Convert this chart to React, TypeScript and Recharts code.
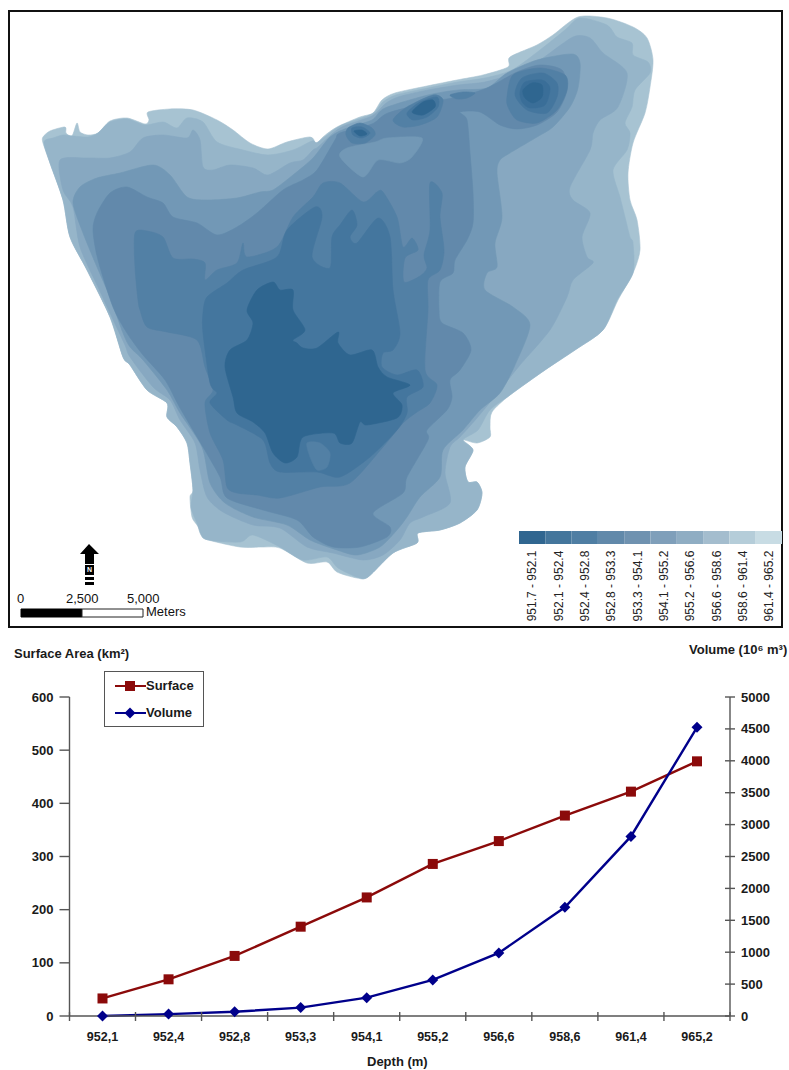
import React from 'react';
import {
  ScatterChart,
  Scatter,
  LineChart,
  Line,
  XAxis,
  YAxis,
  ReferenceArea,
  Legend,
} from 'recharts';

const FONT = '"Liberation Sans", Arial, sans-serif';

// Lower chart
const depths = ['952,1', '952,4', '952,8', '953,3', '954,1', '955,2', '956,6', '958,6', '961,4', '965,2'];
const surfaceArea = [33, 69, 113, 168, 223, 286, 329, 377, 422, 479];
const volume = [0, 30, 66, 132, 287, 565, 988, 1705, 2815, 4525];
const leftTicks = [0, 100, 200, 300, 400, 500, 600];
const rightTicks = [0, 500, 1000, 1500, 2000, 2500, 3000, 3500, 4000, 4500, 5000];

const chartData = depths.map((depth, i) => ({ depth, surface: surfaceArea[i], volume: volume[i] }));

// Map legend
const legendClasses = [
  '951.7 - 952.1', '952.1 - 952.4', '952.4 - 952.8', '952.8 - 953.3', '953.3 - 954.1',
  '954.1 - 955.2', '955.2 - 956.6', '956.6 - 958.6', '958.6 - 961.4', '961.4 - 965.2',
];
const legendColors = [
  '#306690', '#44769c', '#4f7ea3', '#6189aa', '#6f92b0',
  '#7f9fba', '#8fadc3', '#a4bdce', '#b5cdd9', '#c8dce4',
];

type Pt = [number, number];

// Contours, from the shore inwards
const shore: Pt[] = [
  [43, 137], [50, 131], [65, 127], [66, 133], [72, 136], [77, 123], [80, 132], [88, 135], [98, 133], [110, 121],
  [127, 118], [145, 124], [149, 120], [148, 112], [170, 109], [193, 110], [217, 120], [233, 130], [250, 143],
  [268, 149], [287, 142], [310, 137], [315, 143], [313, 148], [323, 137], [337, 127], [360, 117], [373, 113],
  [382, 100], [395, 93], [427, 86], [457, 80], [483, 75], [508, 67], [510, 57], [537, 45], [553, 35], [578, 17],
  [607, 18], [633, 27], [647, 38], [653, 60], [650, 87], [645, 113], [633, 143], [628, 173], [630, 200], [637, 220],
  [640, 250], [633, 273], [618, 300], [603, 330], [575, 350], [545, 370], [510, 395], [492, 412], [490, 427],
  [490, 437], [477, 443], [463, 440], [473, 450], [465, 467], [468, 482], [477, 482], [482, 493], [477, 510],
  [460, 523], [440, 530], [418, 533], [417, 543], [393, 553], [368, 577], [357, 578], [337, 572], [327, 562],
  [307, 563], [280, 548], [263, 547], [240, 547], [205, 539], [202, 533], [197, 525], [192, 517], [190, 497],
  [193, 490], [190, 463], [187, 443], [177, 427], [167, 417], [167, 403], [147, 390], [130, 365], [123, 357],
  [110, 317], [87, 270], [70, 237], [63, 200], [50, 163], [43, 143],
];
const rim: Pt[] = [
  [44, 142], [53, 138], [63, 135], [73, 136], [88, 137], [98, 133], [110, 122], [127, 119], [145, 125], [163, 122],
  [177, 128], [187, 118], [203, 122], [217, 142], [243, 150], [268, 155], [293, 150], [312, 141], [318, 142],
  [340, 126], [372, 114], [383, 102], [396, 95], [428, 88], [458, 82], [485, 78], [512, 70], [540, 50], [565, 30],
  [580, 18], [607, 25], [617, 37], [632, 43], [633, 55], [648, 62], [650, 73], [635, 90], [632, 107], [625, 123],
  [630, 133], [627, 150], [613, 170], [620, 197], [625, 217], [630, 237], [633, 243], [633, 273], [617, 300],
  [603, 330], [575, 350], [545, 370], [510, 395], [490, 410], [478, 430], [463, 440], [473, 450], [465, 467],
  [468, 482], [477, 482], [482, 493], [477, 510], [460, 523], [440, 530], [418, 533], [417, 543], [393, 553],
  [368, 577], [357, 577], [338, 568], [327, 557], [303, 560], [280, 547], [253, 535], [240, 542], [205, 539],
  [197, 523], [191, 507], [193, 490], [190, 463], [187, 443], [177, 427], [167, 417], [167, 403], [147, 390],
  [130, 365], [123, 357], [110, 317], [87, 270], [70, 237], [63, 200], [50, 163],
];
const shelf: Pt[] = [
  [60, 160], [87, 158], [110, 158], [130, 152], [143, 138], [163, 135], [187, 138], [193, 130], [200, 140],
  [203, 167], [213, 170], [230, 165], [253, 168], [268, 175], [290, 163], [303, 160], [313, 150], [318, 147],
  [340, 128], [372, 116], [385, 104], [398, 97], [428, 90], [458, 85], [485, 82], [515, 73], [540, 60], [573, 37],
  [590, 38], [603, 53], [627, 73], [618, 107], [600, 120], [593, 133], [590, 150], [570, 187], [573, 200],
  [590, 213], [582, 237], [587, 257], [593, 263], [573, 280], [567, 297], [550, 330], [520, 365], [500, 390],
  [477, 418], [460, 437], [450, 447], [445, 473], [450, 503], [423, 517], [410, 523], [400, 540], [383, 555],
  [363, 560], [333, 553], [307, 547], [280, 528], [253, 525], [223, 512], [207, 497], [200, 470], [195, 443],
  [180, 420], [170, 400], [153, 387], [130, 357], [125, 345], [110, 313], [98, 287], [80, 247], [73, 207], [63, 190],
];
const slope: Pt[] = [
  [73, 203], [80, 187], [97, 178], [120, 173], [153, 165], [170, 175], [187, 197], [207, 200], [237, 198],
  [260, 192], [273, 190], [293, 175], [313, 158], [330, 137], [347, 128], [372, 120], [385, 108], [428, 95],
  [458, 90], [487, 88], [507, 73], [537, 60], [572, 54], [580, 63], [578, 88], [570, 107], [553, 127], [537, 137],
  [510, 153], [500, 160], [497, 173], [502, 217], [495, 243], [497, 267], [487, 273], [485, 290], [513, 307],
  [530, 325], [515, 365], [500, 393], [480, 410], [463, 430], [443, 450], [440, 477], [420, 497], [407, 517],
  [397, 530], [380, 547], [357, 555], [337, 550], [310, 540], [287, 525], [253, 517], [225, 503], [210, 483],
  [202, 447], [180, 413], [167, 390], [143, 360], [130, 347], [123, 333], [110, 297], [97, 267], [83, 233],
];
const basin: Pt[] = [
  [93, 230], [97, 213], [110, 193], [127, 187], [147, 197], [163, 203], [173, 217], [197, 223], [217, 235],
  [237, 227], [257, 213], [283, 190], [303, 180], [317, 170], [335, 140], [340, 133], [372, 124], [388, 113],
  [430, 102], [458, 97], [487, 88], [517, 72], [540, 65], [562, 70], [567, 90], [557, 112], [537, 125], [517, 129],
  [500, 125], [480, 112], [460, 112], [467, 120], [470, 153], [473, 193], [473, 223], [467, 240], [455, 260],
  [453, 273], [440, 282], [439, 310], [442, 323], [463, 333], [471, 350], [460, 370], [450, 380], [452, 397],
  [447, 410], [427, 430], [428, 440], [407, 477], [403, 493], [373, 513], [390, 527], [387, 537], [360, 547],
  [333, 547], [313, 537], [297, 520], [263, 510], [227, 498], [220, 477], [203, 447], [180, 408], [165, 380],
  [143, 355], [127, 333], [113, 307], [98, 260],
];
const basinPatch: Pt[] = [
  [340, 157], [363, 177], [378, 160], [400, 163], [412, 157], [422, 138], [387, 138], [375, 142], [347, 148],
];
const floor: Pt[] = [
  [135, 233], [147, 231], [163, 237], [173, 258], [193, 259], [205, 263], [205, 280], [217, 270], [237, 263],
  [243, 243], [247, 257], [277, 247], [293, 217], [313, 197], [323, 183], [340, 183], [363, 202], [377, 192],
  [383, 192], [397, 217], [403, 247], [412, 238], [418, 250], [405, 258], [404, 282], [420, 276], [427, 268],
  [424, 255], [430, 230], [430, 183], [442, 193], [440, 217], [444, 250], [440, 270], [428, 280], [428, 310],
  [425, 370], [437, 385], [430, 403], [417, 412], [403, 423], [383, 447], [350, 483], [320, 487], [280, 498],
  [257, 495], [237, 493], [227, 487], [223, 460], [210, 433], [205, 403], [213, 390], [205, 367], [197, 340],
  [167, 332], [147, 327], [140, 310], [138, 300], [135, 267],
];
const deep: Pt[] = [
  [203, 313], [207, 297], [227, 283], [243, 270], [277, 257], [287, 230], [315, 207], [322, 217], [312, 257],
  [330, 268], [332, 237], [340, 225], [352, 210], [357, 225], [350, 237], [357, 243], [378, 218], [390, 237],
  [393, 290], [400, 333], [393, 350], [383, 353], [382, 367], [397, 375], [417, 370], [423, 387], [407, 397],
  [407, 413], [397, 430], [370, 457], [340, 477], [317, 472], [280, 472], [270, 463], [263, 440], [237, 425],
  [227, 420], [210, 403], [217, 393], [210, 383], [203, 333],
];
const deepPatch: Pt[] = [
  [307, 443], [320, 443], [330, 453], [327, 467], [317, 470], [310, 457],
];
const deepest: Pt[] = [
  [247, 310], [257, 290], [273, 282], [280, 290], [293, 290], [293, 310], [305, 330], [293, 340], [297, 343],
  [303, 348], [317, 348], [338, 332], [338, 343], [350, 355], [372, 350], [378, 367], [387, 377], [410, 385],
  [393, 393], [402, 405], [397, 418], [367, 425], [360, 422], [352, 443], [340, 443], [333, 433], [303, 437],
  [297, 457], [285, 463], [273, 453], [265, 433], [253, 422], [237, 413], [233, 397], [225, 367], [230, 350],
  [247, 340], [253, 323],
];
// Small pits along the north shore
const pitWestA: Pt[] = [[348, 128], [360, 123], [372, 128], [375, 135], [365, 143], [352, 143], [346, 135]];
const pitWestB: Pt[] = [[352, 128], [362, 127], [370, 133], [362, 138], [353, 135]];
const pitWestC: Pt[] = [[354, 131], [362, 130], [367, 134], [360, 136]];
const pitMidA: Pt[] = [[393, 120], [407, 107], [433, 95], [443, 100], [437, 117], [420, 125], [403, 127]];
const pitMidB: Pt[] = [[407, 113], [420, 102], [437, 97], [438, 107], [427, 117], [413, 120]];
const pitMidC: Pt[] = [[412, 112], [423, 102], [433, 100], [435, 107], [423, 115]];
const pitSmall: Pt[] = [[450, 95], [463, 92], [475, 93], [467, 98], [457, 99]];
const pitEastA: Pt[] = [[507, 97], [513, 75], [540, 68], [565, 75], [567, 90], [557, 110], [537, 123], [517, 120], [508, 107]];
const pitEastB: Pt[] = [[515, 95], [522, 78], [543, 73], [557, 83], [557, 97], [547, 113], [527, 110]];
const pitEastC: Pt[] = [[520, 92], [525, 82], [542, 80], [550, 88], [545, 105], [530, 108], [522, 102]];
const pitEastD: Pt[] = [[523, 90], [532, 83], [542, 85], [542, 97], [533, 103], [525, 98]];
// North arrow
const arrowHead: Pt[] = [[89, 544], [99, 554], [94, 554], [94, 564], [85, 564], [85, 554], [80, 554]];

const level0 = '#a7c3d2';
const level1 = '#96b5c9';
const level2 = '#87a8c1';
const level3 = '#7298b6';
const level4 = '#6289ab';
const level5 = '#5280a5';
const level6 = '#44769e';
const level7 = '#2f6690';

const contours: [Pt[], string][] = [
  [shore, level0], [rim, level1], [shelf, level2], [slope, level3], [basin, level4], [basinPatch, level3],
  [floor, level5], [deep, level6], [deepPatch, level5], [deepest, level7],
  [pitWestA, level5], [pitWestB, level6], [pitWestC, level7],
  [pitMidA, level5], [pitMidB, level6], [pitMidC, level7], [pitSmall, level5],
  [pitEastA, level5], [pitEastB, level6], [pitEastC, '#3a6e98'], [pitEastD, level7],
];

// closed Catmull-Rom through the scaled points, so the contours do not look faceted
function smoothPath(points: any[]) {
  const n = points.length;
  const k = 0.13;
  let d = `M${points[0].x},${points[0].y}`;
  for (let i = 0; i < n; i++) {
    const p0 = points[(i - 1 + n) % n];
    const p1 = points[i];
    const p2 = points[(i + 1) % n];
    const p3 = points[(i + 2) % n];
    d += ` C${p1.x + (p2.x - p0.x) * k},${p1.y + (p2.y - p0.y) * k} ${p2.x - (p3.x - p1.x) * k},${p2.y - (p3.y - p1.y) * k} ${p2.x},${p2.y}`;
  }
  return d + 'Z';
}

function Contour(color: string) {
  return (props: any) => <path d={smoothPath(props.points)} fill={color} stroke={color} strokeWidth={0.6} />;
}

function StraightPolygon(color: string) {
  return (props: any) => {
    const d = props.points.map((p: any, i: number) => `${i ? 'L' : 'M'}${p.x},${p.y}`).join(' ') + 'Z';
    return <path d={d} fill={color} />;
  };
}

const noMark = () => <g />;

function MapPanel() {
  const cellW = 26.3;
  return (
    <ScatterChart width={789} height={630} margin={{ top: 0, right: 0, bottom: 0, left: 0 }}>
      <XAxis type="number" dataKey="x" domain={[0, 789]} hide />
      <YAxis type="number" dataKey="y" domain={[0, 630]} reversed hide />
      {contours.map(([pts, color], i) => (
        <Scatter
          key={i}
          data={pts.map(([x, y]) => ({ x, y }))}
          fill={color}
          line={Contour(color)}
          shape={noMark}
          isAnimationActive={false}
        />
      ))}
      <Scatter
        data={arrowHead.map(([x, y]) => ({ x, y }))}
        fill="#000"
        line={StraightPolygon('#000')}
        shape={noMark}
        isAnimationActive={false}
      />
      {legendClasses.map((name, i) => (
        <ReferenceArea key={name} x1={519 + i * cellW} x2={519 + (i + 1) * cellW} y1={531} y2={544} fill={legendColors[i]} fillOpacity={1} stroke="none" />
      ))}
      {legendClasses.map((name, i) => (
        <ReferenceArea
          key={name + 'label'}
          x1={519 + i * cellW}
          x2={519 + (i + 1) * cellW}
          y1={548}
          y2={624}
          fill="none"
          stroke="none"
          label={{ value: name, angle: -90, position: 'center', fontSize: 12, fill: '#222', fontFamily: FONT }}
        />
      ))}
      {/* north arrow and scale bar */}
      <ReferenceArea x1={85} x2={94} y1={565} y2={575} fill="#000" fillOpacity={1} stroke="none" label={{ value: 'N', position: 'center', fontSize: 7, fontWeight: 700, fill: '#fff', fontFamily: FONT }} />
      <ReferenceArea x1={85} x2={94} y1={577} y2={580} fill="#000" fillOpacity={1} stroke="none" />
      <ReferenceArea x1={85} x2={94} y1={582} y2={585} fill="#000" fillOpacity={1} stroke="none" />
      <ReferenceArea x1={21} x2={82} y1={609} y2={617} fill="#000" fillOpacity={1} stroke="#000" />
      <ReferenceArea x1={82} x2={143} y1={609} y2={617} fill="#fff" fillOpacity={1} stroke="#222" />
    </ScatterChart>
  );
}

const LeftTick = ({ x, y, payload }: any) => (
  <g>
    <line x1={x - 2} x2={x + 8} y1={y} y2={y} stroke="#555" strokeWidth={1.4} />
    <text x={x - 8} y={y + 4.5} textAnchor="end" fontSize={13} fontWeight={700} fill="#1a1a1a" fontFamily={FONT}>{payload.value}</text>
  </g>
);

const RightTick = ({ x, y, payload }: any) => (
  <g>
    <line x1={x - 13} x2={x - 3} y1={y} y2={y} stroke="#555" strokeWidth={1.4} />
    <text x={x + 3} y={y + 4.5} textAnchor="start" fontSize={13} fontWeight={700} fill="#1a1a1a" fontFamily={FONT}>{payload.value}</text>
  </g>
);

const DepthTick = ({ x, y, payload, index }: any) => (
  <g>
    <line x1={x + 33} x2={x + 33} y1={y - 12} y2={y - 3} stroke="#555" strokeWidth={1.4} />
    {index === 0 && <line x1={x - 33} x2={x - 33} y1={y - 12} y2={y - 3} stroke="#555" strokeWidth={1.4} />}
    <text x={x} y={y + 17} textAnchor="middle" fontSize={12.5} fontWeight={700} fill="#1a1a1a" fontFamily={FONT}>{payload.value}</text>
  </g>
);

const SquareDot = ({ cx, cy, fill }: any) => <rect x={cx - 5} y={cy - 5} width={10} height={10} fill={fill} />;
const DiamondDot = ({ cx, cy, fill }: any) => (
  <path d={`M${cx},${cy - 5.5} L${cx + 5.5},${cy} L${cx},${cy + 5.5} L${cx - 5.5},${cy}Z`} fill={fill} />
);

const SURFACE_COLOR = '#8b0a0a';
const VOLUME_COLOR = '#00008b';

const SeriesKey = (props: any) => (
  <div style={{ width: 98, height: 54, border: '1px solid #555', background: '#fff', fontFamily: FONT, fontSize: 13, fontWeight: 700, color: '#1a1a1a' }}>
    {props.payload.map((item: any) => (
      <div key={item.value} style={{ display: 'flex', alignItems: 'center', height: 27, paddingLeft: 10 }}>
        <svg width={31} height={12}>
          <line x1={0} x2={31} y1={6} y2={6} stroke={item.color} strokeWidth={2} />
          {item.value === 'Surface'
            ? <SquareDot cx={15} cy={6} fill={item.color} />
            : <DiamondDot cx={15} cy={6} fill={item.color} />}
        </svg>
        <span>{item.value}</span>
      </div>
    ))}
  </div>
);

function HypsometryChart() {
  return (
    <LineChart width={789} height={440} data={chartData} margin={{ top: 67, right: 9, bottom: 24, left: 19.5 }}>
      <XAxis
        dataKey="depth"
        padding={{ left: 33, right: 33 }}
        stroke="#555"
        strokeWidth={1.4}
        tickLine={false}
        tick={DepthTick}
        interval={0}
        height={30}
      />
      <YAxis
        yAxisId="left"
        domain={[0, 600]}
        ticks={leftTicks}
        width={50}
        stroke="#555"
        strokeWidth={1.4}
        tickLine={false}
        tick={LeftTick}
      />
      <YAxis
        yAxisId="right"
        orientation="right"
        domain={[0, 5000]}
        ticks={rightTicks}
        width={50}
        stroke="#555"
        strokeWidth={1.4}
        tickLine={false}
        tick={RightTick}
      />
      <Legend
        layout="vertical"
        align="center"
        verticalAlign="middle"
        content={SeriesKey}
        wrapperStyle={{ left: 104, top: 41, width: 100, height: 56 }}
      />
      <Line yAxisId="left" dataKey="surface" name="Surface" stroke={SURFACE_COLOR} fill={SURFACE_COLOR} strokeWidth={2.4} dot={SquareDot} isAnimationActive={false} />
      <Line yAxisId="right" dataKey="volume" name="Volume" stroke={VOLUME_COLOR} fill={VOLUME_COLOR} strokeWidth={2.4} dot={DiamondDot} isAnimationActive={false} />
    </LineChart>
  );
}

const boldLabel: React.CSSProperties = { position: 'absolute', fontFamily: FONT, fontSize: 13, fontWeight: 700, color: '#1a1a1a', whiteSpace: 'nowrap', lineHeight: '14px' };
const scaleLabel: React.CSSProperties = { position: 'absolute', fontFamily: FONT, fontSize: 13, color: '#111', whiteSpace: 'nowrap', lineHeight: '14px' };

export default function App() {
  return (
    <div style={{ position: 'absolute', left: 0, top: 0, width: 789, height: 1070, background: '#fff', overflow: 'hidden' }}>
      <div style={{ position: 'absolute', left: 8, top: 10, width: 771, height: 614, border: '2px solid #111' }} />
      <div style={{ position: 'absolute', left: 0, top: 0 }}><MapPanel /></div>
      <div style={{ ...scaleLabel, left: 17, top: 592 }}>0</div>
      <div style={{ ...scaleLabel, left: 66, top: 592 }}>2,500</div>
      <div style={{ ...scaleLabel, left: 127, top: 592 }}>5,000</div>
      <div style={{ ...scaleLabel, left: 146, top: 605 }}>Meters</div>
      <div style={{ position: 'absolute', left: 0, top: 630 }}><HypsometryChart /></div>
      <div style={{ ...boldLabel, left: 14, top: 647 }}>Surface Area (km²)</div>
      <div style={{ ...boldLabel, left: 689, top: 643 }}>Volume (10⁶ m³)</div>
      <div style={{ ...boldLabel, left: 367, top: 1055 }}>Depth (m)</div>
    </div>
  );
}
